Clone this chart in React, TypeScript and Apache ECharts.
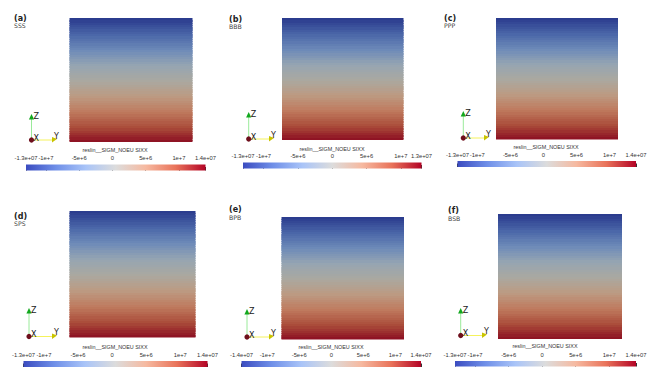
import React, { useEffect, useRef } from "react";
import * as echarts from "echarts";

// Stress level of each horizontal layer, top to bottom, in units of 1e6
const fieldLevels = [
  -14, -13.5, -13, -12.5, -12, -11.5, -11, -10.5, -10, -9.5, -9, -8.5, -8, -7.5, -7, -6.5, -6, -5.5, -5, -4.5, -4,
  -3.5, -3, -2.5, -2, -1.5, -1, -0.5, 0, 0.5, 1, 1.5, 2, 2.5, 3, 3.5, 4, 4.5, 5, 5.5, 6, 6.5, 7, 7.5, 8, 8.5, 9,
  9.5, 10, 10.5, 11, 11.5, 12, 12.5, 13, 13.5,
];
const layerStep = 0.5;
const panelLetters = ["(a)", "(b)", "(c)", "(d)", "(e)", "(f)"];
const panelNames = ["SSS", "BBB", "PPP", "SPS", "BPB", "BSB"];
const rangeMin = [-13, -13, -13, -13, -14, -13];
const rangeMax = [14, 13, 14, 14, 14, 14];
const minLabels = ["-1.3e+07", "-1.3e+07", "-1.3e+07", "-1.3e+07", "-1.4e+07", "-1.3e+07"];
const maxLabels = ["1.4e+07", "1.3e+07", "1.4e+07", "1.4e+07", "1.4e+07", "1.4e+07"];
const tickValues = [-10, -5, 0, 5, 10];
const tickLabels = ["-1e+7", "-5e+6", "0", "5e+6", "1e+7"];
const barTitle = "reslin__SIGM_NOEU SIXX";

const fieldColors = ["#2b3c8e", "#4a66a8", "#6d8ab8", "#96a5b2", "#aaa8a0", "#bc9a82", "#bf7a5e", "#aa4c3a", "#8a0a20"];
const barColors = ["#3b4cc0", "#6f8fe8", "#a9c4f8", "#dcdcdc", "#f6b9a0", "#e9735a", "#b40426"];

// Layout of every panel: field box, colour bar box, title centre, triad, label
const layouts = [
  { f: [69.5, 18, 123, 124], b: [26, 164.5, 179.5, 6], tc: 115, ty: 150, o: [31.5, 140], zt: 114, ye: 57, lx: 14, ly: 18 },
  { f: [282, 18, 121.5, 122], b: [243, 162.5, 178.5, 6], tc: 332, ty: 148.5, o: [248.7, 139], zt: 112, ye: 274, lx: 229, ly: 19 },
  { f: [496, 17.5, 122, 122], b: [457.5, 161, 178.5, 6], tc: 546, ty: 147, o: [463.3, 138], zt: 111, ye: 489, lx: 444, ly: 18 },
  { f: [69.5, 210.5, 126, 127], b: [23.5, 361, 184, 6], tc: 115, ty: 346.5, o: [29, 336.5], zt: 308, ye: 57, lx: 14, ly: 216 },
  { f: [281.5, 216.5, 122.5, 123], b: [241.5, 361, 179.5, 6], tc: 331, ty: 347, o: [247, 337], zt: 309, ye: 274, lx: 229, ly: 209.5 },
  { f: [498, 214, 124, 125], b: [455, 361, 181, 5.5], tc: 545, ty: 345.5, o: [460.7, 335.5], zt: 308, ye: 487, lx: 448, ly: 210.5 },
];

function buildOption() {
  const grid: any[] = [];
  const xAxis: any[] = [];
  const yAxis: any[] = [];
  const series: any[] = [];
  const visualMap: any[] = [];
  const graphic: any[] = [];
  const sans = "'DejaVu Sans'";
  const arial = "'Liberation Sans'";

  layouts.forEach((p, i) => {
    const g1 = grid.length;
    const levels = fieldLevels.filter((v) => v >= rangeMin[i] && v < rangeMax[i]);
    grid.push({ left: p.f[0], top: p.f[1], width: p.f[2], height: p.f[3], show: false });
    xAxis.push({ type: "value", gridIndex: g1, min: 0, max: 1, show: false });
    yAxis.push({ type: "value", gridIndex: g1, min: rangeMin[i], max: rangeMax[i], inverse: true, show: false });
    visualMap.push({
      show: false,
      type: "continuous",
      seriesIndex: series.length,
      dimension: 1,
      min: rangeMin[i],
      max: rangeMax[i],
      inRange: { color: fieldColors },
    });
    series.push({
      type: "custom",
      xAxisIndex: g1,
      yAxisIndex: g1,
      silent: true,
      clip: true,
      data: levels.map((v) => [0, v]),
      renderItem: (_: any, api: any) => {
        const a = api.coord([0, api.value(1)]);
        const b = api.coord([1, api.value(1) + layerStep]);
        const top = Math.round(a[1]);
        return {
          type: "rect",
          // layers are snapped to whole pixels and overlap downward so that no seam shows
          shape: { x: a[0], y: top, width: b[0] - a[0], height: Math.ceil(b[1]) - top + 1 },
          style: { fill: api.visual("color") },
        };
      },
    });

    const g2 = grid.length;
    const fmt = (v: number) => {
      if (v === rangeMin[i]) return minLabels[i];
      if (v === rangeMax[i]) return maxLabels[i];
      const k = tickValues.indexOf(v);
      return k >= 0 ? tickLabels[k] : "";
    };
    const custom = [rangeMin[i], ...tickValues, rangeMax[i]];
    grid.push({ left: p.b[0], top: p.b[1], width: p.b[2], height: p.b[3], show: false });
    xAxis.push({
      type: "value",
      gridIndex: g2,
      position: "top",
      min: rangeMin[i],
      max: rangeMax[i],
      splitLine: { show: false },
      axisLine: { show: false },
      axisTick: { show: true, customValues: custom, length: 3.5, lineStyle: { color: "#333", width: 1 } },
      axisLabel: {
        customValues: custom,
        formatter: fmt,
        margin: 3.5,
        hideOverlap: false,
        showMinLabel: true,
        showMaxLabel: true,
        fontSize: 5.8,
        fontFamily: arial,
        color: "#333",
      },
    });
    yAxis.push({ type: "value", gridIndex: g2, min: 0, max: 1, show: false });
    series.push({
      type: "custom",
      xAxisIndex: g2,
      yAxisIndex: g2,
      silent: true,
      data: [[rangeMin[i], rangeMax[i]]],
      renderItem: (_: any, api: any) => {
        const a = api.coord([api.value(0), 1]);
        const b = api.coord([api.value(1), 0]);
        return {
          type: "rect",
          shape: { x: a[0], y: a[1], width: b[0] - a[0], height: b[1] - a[1] },
          style: {
            fill: new echarts.graphic.LinearGradient(
              0,
              0,
              1,
              0,
              barColors.map((c, k) => ({ offset: k / (barColors.length - 1), color: c })),
            ),
          },
        };
      },
    });

    // Panel labels and colour bar title
    graphic.push(
      { type: "text", left: p.lx, top: p.ly - 4, style: { text: panelLetters[i], font: `bold 8px ${sans}`, fill: "#222" } },
      { type: "text", left: p.lx, top: p.ly + 4.5, style: { text: panelNames[i], font: `6.2px ${sans}`, fill: "#444" } },
      {
        type: "text",
        x: p.tc,
        y: p.ty,
        style: { text: barTitle, font: `5.4px ${arial}`, fill: "#333", align: "center", verticalAlign: "middle" },
      },
    );

    // Orientation triad
    const [ox, oy] = p.o;
    graphic.push(
      { type: "line", shape: { x1: ox, y1: oy, x2: ox, y2: p.zt + 3 }, style: { stroke: "#8ee88e", lineWidth: 0.9 } },
      { type: "line", shape: { x1: ox, y1: oy, x2: p.ye - 3, y2: oy }, style: { stroke: "#f4f04a", lineWidth: 0.9 } },
      {
        type: "polygon",
        shape: { points: [[ox, p.zt], [ox - 2.6, p.zt + 5.5], [ox + 2.6, p.zt + 5.5]] },
        style: { fill: "#12a81e" },
      },
      {
        type: "polygon",
        shape: { points: [[p.ye, oy - 1], [p.ye - 5, oy - 3], [p.ye - 5, oy + 2.5]] },
        style: { fill: "#c9c400" },
      },
      { type: "circle", shape: { cx: ox, cy: oy, r: 2.6 }, style: { fill: "#6e0f1c" } },
      { type: "text", x: ox + 2, y: oy - 6, style: { text: "X", font: `8px ${sans}`, fill: "#111" } },
      { type: "text", x: p.ye - 3, y: oy - 8, style: { text: "Y", font: `8px ${sans}`, fill: "#222" } },
      { type: "text", x: ox + 2, y: p.zt - 2, style: { text: "Z", font: `8px ${sans}`, fill: "#222" } },
    );
  });

  return { animation: false, backgroundColor: "#ffffff", grid, xAxis, yAxis, series, visualMap, graphic };
}

export default function App() {
  const ref = useRef<HTMLDivElement>(null);
  useEffect(() => {
    const chart = echarts.init(ref.current!, undefined, { renderer: "svg" });
    chart.setOption(buildOption() as any);
    return () => chart.dispose();
  }, []);
  return <div ref={ref} style={{ position: "absolute", left: 0, top: 0, width: 669, height: 385 }} />;
}
